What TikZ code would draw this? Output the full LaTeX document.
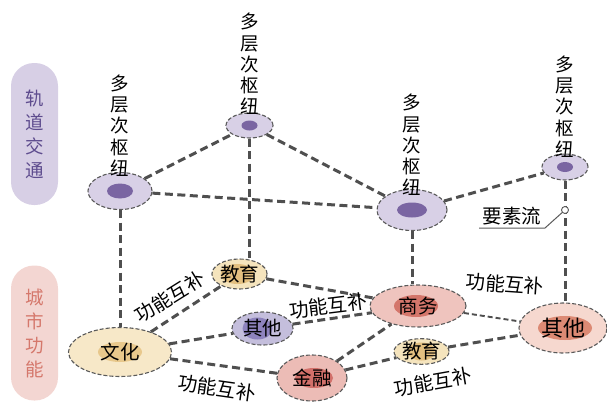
\documentclass[tikz,border=0pt]{standalone}
\usepackage{fontspec}
\newfontfamily\cjk{Noto Sans CJK SC}
\usetikzlibrary{shapes.geometric}
\definecolor{linec}{HTML}{4F4F4F}
\definecolor{bordc}{HTML}{5A5A5A}
\definecolor{hubc}{HTML}{D8D0E6}
\definecolor{hubin}{HTML}{7A65A2}
\definecolor{pillac}{HTML}{D7CFE5}
\definecolor{pillat}{HTML}{5E4C8E}
\definecolor{pillbc}{HTML}{F3D6D2}
\definecolor{pillbt}{HTML}{D5786C}
\definecolor{wenout}{HTML}{F7E8C8}
\definecolor{wenin}{HTML}{E8C88C}
\definecolor{jyout}{HTML}{F5E4BD}
\definecolor{jyin}{HTML}{E3BF80}
\definecolor{qtout}{HTML}{C4BEDC}
\definecolor{qtin}{HTML}{8E83BD}
\definecolor{swout}{HTML}{EFC4BE}
\definecolor{swin}{HTML}{D4766B}
\definecolor{jrout}{HTML}{ECBCB6}
\definecolor{jrin}{HTML}{D2706A}
\definecolor{qt2out}{HTML}{F6D8CF}
\definecolor{qt2in}{HTML}{DC8A74}
\begin{document}
\begin{tikzpicture}[x=1pt,y=-1pt,
  link/.style={draw=linec, line width=3pt, dash pattern=on 8pt off 4.5pt},
  thinlink/.style={draw=linec, line width=1.9pt, dash pattern=on 5pt off 3pt},
  ell/.style={ellipse, draw=bordc, line width=1.1pt, dash pattern=on 4pt off 2pt, inner sep=0pt, font=\cjk\fontsize{19.5}{19.5}\selectfont},
  core/.style n args={4}{path picture={\fill[#1] ([xshift=#4]path picture bounding box.center) ellipse [x radius=#2, y radius=#3];}},
  vlabel/.style={font=\cjk\fontsize{18.5}{21.25}\selectfont, align=center, inner sep=0pt},
  ftext/.style={font=\cjk\fontsize{19.5}{19.5}\selectfont, inner sep=0pt},
  pill/.style={rounded corners=23pt, minimum width=47pt, inner sep=0pt, align=center, font=\cjk\fontsize{18.5}{24}\selectfont}
]
\useasboundingbox (0,0) rectangle (607,402);
% pills
\node[pill, fill=pillac, text=pillat, minimum height=142pt] (p1) at (34.5,134) {轨\\道\\交\\通};
\node[pill, fill=pillbc, text=pillbt, minimum height=135pt] (p2) at (34.5,333) {城\\市\\功\\能};
% hubs
\node[ell, fill=hubc, minimum width=64pt, minimum height=37pt, core={hubin}{13pt}{7.5pt}{0pt}] (h1) at (120,191) {};
\node[ell, fill=hubc, minimum width=47pt, minimum height=25pt, core={hubin}{8pt}{5pt}{0pt}] (h2) at (249.5,125.5) {};
\node[ell, fill=hubc, minimum width=70pt, minimum height=41pt, core={hubin}{15pt}{7.5pt}{0pt}] (h3) at (412,210) {};
\node[ell, fill=hubc, minimum width=46pt, minimum height=26pt, core={hubin}{8pt}{5pt}{0pt}] (h4) at (565,167) {};
% functions
\node[ell, fill=wenout, minimum width=103pt, minimum height=49pt, core={wenin}{22pt}{10pt}{0pt}] (wenhua) at (120,352) {文化};
\node[ell, fill=jyout, minimum width=55pt, minimum height=30pt, core={jyin}{17pt}{10pt}{-2pt}] (jiaoyu1) at (239.5,274) {教育};
\node[ell, fill=qtout, minimum width=61pt, minimum height=33pt, core={qtin}{15pt}{11pt}{-5pt}] (qita1) at (262.5,328.5) {其他};
\node[ell, fill=swout, minimum width=96pt, minimum height=42pt, core={swin}{22pt}{11pt}{-2pt}] (shangwu) at (418,306) {商务};
\node[ell, fill=jrout, minimum width=70pt, minimum height=46pt, core={jrin}{19pt}{10pt}{2pt}] (jinrong) at (312,378) {金融};
\node[ell, fill=jyout, minimum width=43pt, minimum height=25pt, core={jyin}{14pt}{9pt}{0pt}] (jiaoyu2) at (421.5,351.5) {教育};
\node[ell, fill=qt2out, minimum width=88pt, minimum height=50pt, core={qt2in}{27pt}{12pt}{2pt}, font=\cjk\fontsize{22}{22}\selectfont] (qita2) at (563,328) {其他};
% upper links
\draw[link] (h1) -- (h2);
\draw[link] (h2) -- (h3);
\draw[link] (h1) -- (h3);
\draw[link] (h3) -- (h4);
% vertical links
\draw[link] (h1) -- (wenhua);
\draw[link] (h2) -- (h2 |- jiaoyu1.north);
\draw[link] (h3) -- (h3 |- shangwu.north);
\draw[link] (h4) -- (h4 |- qita2.north);
% lower links
\draw[link] (wenhua) -- (jiaoyu1);
\draw[link] (wenhua) -- (qita1);
\draw[link] (wenhua) -- (jinrong);
\draw[link] (jiaoyu1) -- (shangwu);
\draw[link] (qita1) -- (shangwu);
\draw[link] (jinrong) -- (shangwu);
\draw[link] (jinrong) -- (jiaoyu2);
\draw[link] (jiaoyu2) -- (qita2);
\draw[thinlink] (shangwu) -- (qita2);
% hub labels
\node[vlabel] (l1) at (120,125.5) {多\\层\\次\\枢\\纽};
\node[vlabel] (l2) at (249.5,64) {多\\层\\次\\枢\\纽};
\node[vlabel] (l3) at (412,145) {多\\层\\次\\枢\\纽};
\node[vlabel] (l4) at (565,106.5) {多\\层\\次\\枢\\纽};
% link labels
\node[ftext, rotate=32] (lb1) at (170,297) {功能互补};
\node[ftext, rotate=-8] (lb2) at (217,388) {功能互补};
\node[ftext, rotate=7] (lb3) at (328,306) {功能互补};
\node[ftext, rotate=-4] (lb4) at (505,284) {功能互补};
\node[ftext, rotate=10] (lb5) at (433,382) {功能互补};
% element flow
\node[circle, draw=bordc, fill=white, line width=0.9pt, minimum size=7pt, inner sep=0pt] (flowpt) at (565,210) {};
\coordinate (fk) at (545,228);
\coordinate (fe) at (479,228);
\draw[bordc, line width=1pt] (flowpt) -- (fk) -- (fe);
\node[ftext] (flowtxt) at (512,216) {要素流};
\end{tikzpicture}
\end{document}
